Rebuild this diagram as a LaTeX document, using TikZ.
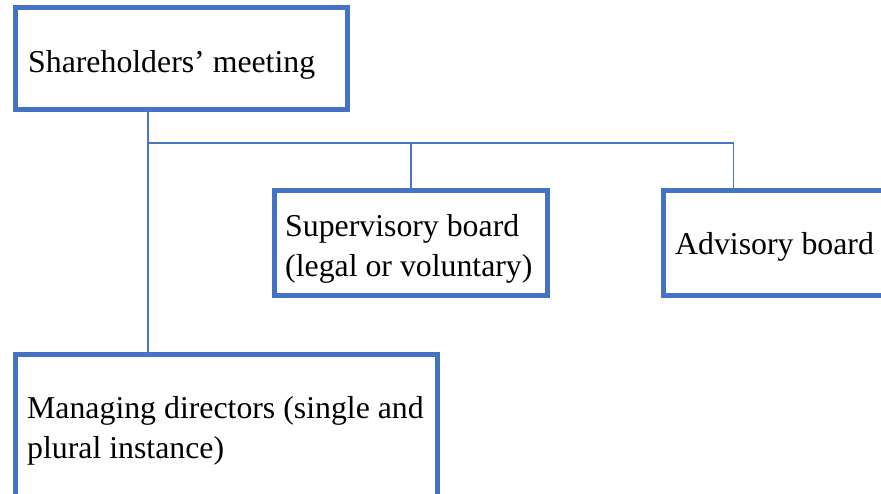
\documentclass[tikz,border=0pt]{standalone}
\usepackage{fontspec}
\setmainfont{Liberation Serif}
\definecolor{boxblue}{HTML}{4472C4}
\definecolor{lineblue}{HTML}{4A74C6}
\begin{document}
\begin{tikzpicture}[x=1bp,y=-1bp,
  orgbox/.style={draw=boxblue,line width=5bp,fill=white,rectangle,inner sep=0pt,outer sep=0pt,anchor=north west},
  orgtext/.style={anchor=base west,inner sep=0pt,font=\fontsize{31.8bp}{40bp}\selectfont,align=left},
  link/.style={draw=lineblue,line width=1.3bp}]
\clip (0,0) rectangle (881,494);
\useasboundingbox (0,0) rectangle (881,494);
% boxes
\node[orgbox,minimum width=331.5bp,minimum height=101.5bp] (sh) at (15.5,8) {};
\node[orgbox,minimum width=273bp,minimum height=104.5bp] (sb) at (274.5,190.5) {};
\node[orgbox,minimum width=260bp,minimum height=105bp] (ab) at (663,190.5) {};
\node[orgbox,minimum width=422bp,minimum height=160bp] (md) at (15.5,354.5) {};
% texts (base = baseline of the last line)
\node[orgtext] (tsh) at (28,73) {Shareholders’ meeting};
\node[orgtext] (tsb) at (285,277) {Supervisory board\\(legal or voluntary)};
\node[orgtext] (tab) at (675,255) {Advisory board};
\node[orgtext] (tmd) at (27,458) {Managing directors (single and\\plural instance)};
% connectors
\coordinate (j0) at (148,143);
\coordinate (j1) at (411,143);
\coordinate (j2) at (733.5,143);
\draw[link] (sh.south -| j0) -- (md.north -| j0);
\draw[link] (j0) -- (j2);
\draw[link] (j1) -- (sb.north -| j1);
\draw[link] (j2) -- (ab.north -| j2);
\end{tikzpicture}
\end{document}
